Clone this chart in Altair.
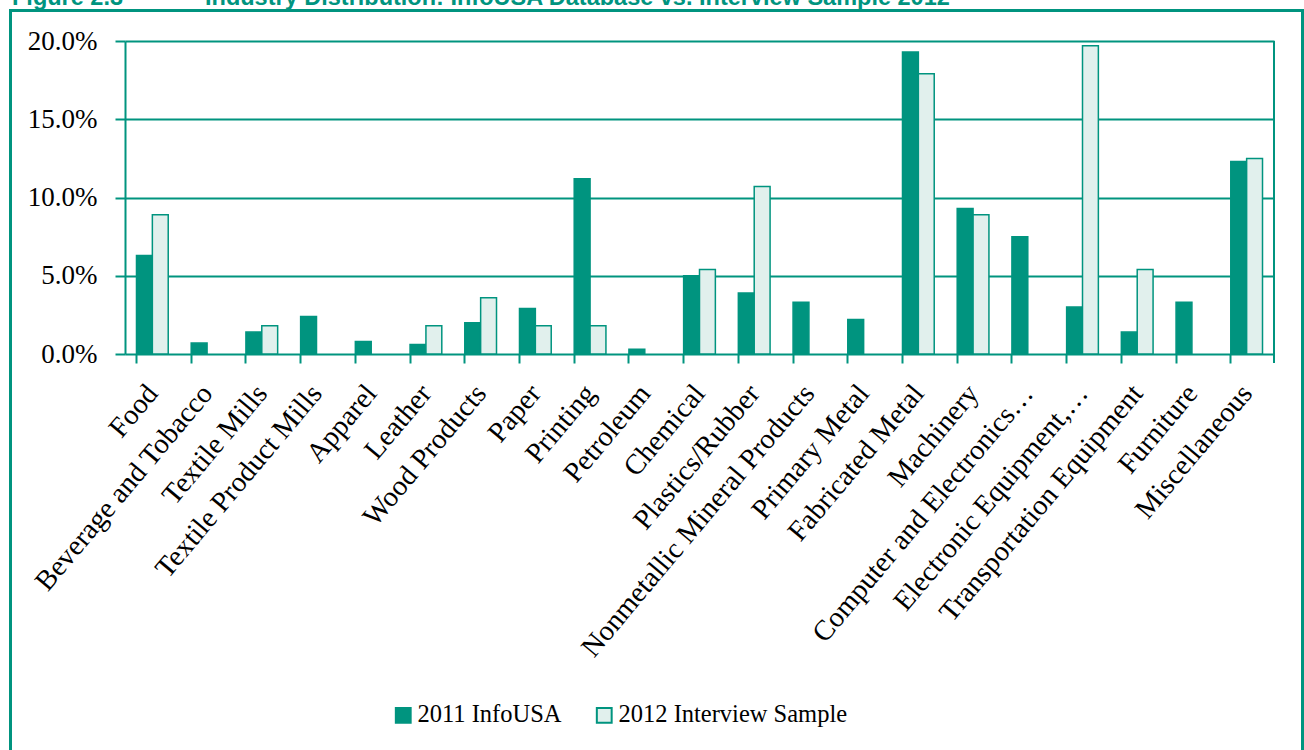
import altair as alt
import pandas as pd

categories = ["Food", "Beverage and Tobacco", "Textile Mills", "Textile Product Mills",
              "Apparel", "Leather", "Wood Products", "Paper", "Printing", "Petroleum",
              "Chemical", "Plastics/Rubber", "Nonmetallic Mineral Products", "Primary Metal",
              "Fabricated Metal", "Machinery", "Computer and Electronics\u2026",
              "Electronic Equipment,\u2026", "Transportation Equipment", "Furniture",
              "Miscellaneous"]
series = ["2011 InfoUSA", "2012 Interview Sample"]
infousa = [6.3, 0.7, 1.4, 2.4, 0.8, 0.6, 2.0, 2.9, 11.2, 0.3, 5.0, 3.9, 3.3, 2.2,
           19.3, 9.3, 7.5, 3.0, 1.4, 3.3, 12.3]
interview = [8.9, 0.0, 1.8, 0.0, 0.0, 1.8, 3.6, 1.8, 1.8, 0.0, 5.4, 10.7, 0.0, 0.0,
             17.9, 8.9, 0.0, 19.7, 5.4, 0.0, 12.5]
y_ticks = [0, 5, 10, 15, 20]
title_fig = "Figure 2.3"
title_text = "Industry Distribution: InfoUSA Database vs. Interview Sample 2012"

GREEN = "#00947F"
LIGHT = "#E1F0ED"
SERIF = "Liberation Serif"

df = pd.DataFrame({
    "Industry": categories * 2,
    "Series": [series[0]] * len(categories) + [series[1]] * len(categories),
    "Share": infousa + interview,
})

W, H = 1149, 313

bars = alt.Chart(df).transform_filter("datum.Share > 0").mark_bar(
    stroke=GREEN, strokeWidth=1.5
).encode(
    x=alt.X("Industry:N", sort=categories,
            scale=alt.Scale(paddingInner=0.42, paddingOuter=0.21),
            axis=alt.Axis(title=None, labelAngle=-50, labelFont=SERIF, labelFontSize=28.5,
                          labelColor="black", labelPadding=25, labelLimit=0,
                          bandPosition=0, tickColor=GREEN, tickSize=9, tickWidth=2,
                          domain=False, grid=False)),
    xOffset=alt.XOffset("Series:N", sort=series),
    y=alt.Y("Share:Q", scale=alt.Scale(domain=[0, 20], nice=False),
            axis=alt.Axis(title=None, values=y_ticks,
                          labelExpr="format(datum.value, '.1f') + '%'",
                          grid=True, gridColor=GREEN, gridWidth=2,
                          domainColor=GREEN, domainWidth=2,
                          tickColor=GREEN, tickSize=10, tickWidth=2,
                          labelFont=SERIF, labelFontSize=27, labelColor="black",
                          labelPadding=18)),
    color=alt.Color("Series:N", sort=series,
                    scale=alt.Scale(domain=series, range=[GREEN, LIGHT]),
                    legend=alt.Legend(title=None, orient="none", legendX=266, legendY=662,
                                      direction="horizontal", labelFont=SERIF,
                                      labelFontSize=24.5, labelColor="black",
                                      symbolType="square", symbolSize=220,
                                      symbolStrokeColor=GREEN, symbolStrokeWidth=2,
                                      columnPadding=30, labelOffset=2, labelLimit=0)),
)

one = pd.DataFrame({"k": [0]})

right_line = alt.Chart(one).mark_rule(color=GREEN, strokeWidth=2).encode(
    x=alt.value(W), y=alt.value(0), y2=alt.value(H + 9))

frame = alt.Chart(one).mark_rect(fill="transparent", stroke=GREEN, strokeWidth=3).encode(
    x=alt.value(-114.5), x2=alt.value(1177.5), y=alt.value(-30.5), y2=alt.value(760))

t1 = alt.Chart(one).mark_text(text=title_fig, font="Liberation Sans", fontWeight="bold",
                              fontSize=23.5, color=GREEN, align="left",
                              baseline="alphabetic").encode(
    x=alt.value(-113), y=alt.value(-36))
t2 = alt.Chart(one).mark_text(text=title_text, font="Liberation Sans", fontWeight="bold",
                              fontSize=23.5, color=GREEN, align="left",
                              baseline="alphabetic").encode(
    x=alt.value(80), y=alt.value(-36))

chart = alt.layer(frame, bars, right_line, t1, t2).properties(
    width=W, height=H,
    padding={"left": 125, "top": 41, "right": 30, "bottom": 396},
    autosize=alt.AutoSizeParams(type="none"),
).configure_view(strokeWidth=0)

chart.save("out.html", embed_options={"renderer": "svg", "actions": False})
